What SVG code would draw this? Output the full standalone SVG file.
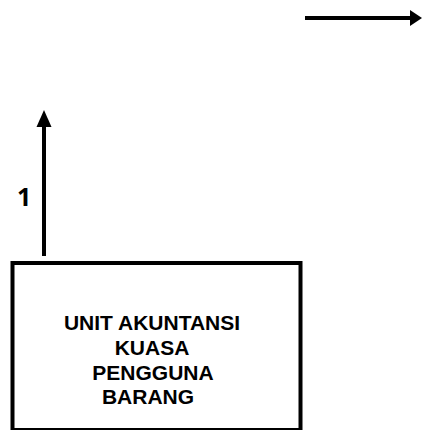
<svg xmlns="http://www.w3.org/2000/svg" width="422" height="430" viewBox="0 0 422 430">
  <style>
    .line { stroke: #000; stroke-width: 4; fill: none; }
    .head { fill: #000; }
    .box { fill: #fff; stroke: #000; stroke-width: 4; }
    .lbl { font-family: "Liberation Sans", Arial, sans-serif; font-weight: bold; font-size: 21px; fill: #000; text-anchor: middle; }
    .num { font-family: "Open Sans", "Noto Sans", sans-serif; font-weight: bold; font-size: 25px; fill: #000; }
  </style>
  <rect width="422" height="430" fill="#fff"/>
  <g id="connectors">
    <line class="line" x1="305" y1="18" x2="411" y2="18"/>
    <polygon class="head" points="410,10 422,18 410,26"/>
    <line class="line" x1="44" y1="256" x2="44" y2="125"/>
    <polygon class="head" points="44,110 36.5,127 51.5,127"/>
    <text class="num" x="17" y="206">1</text>
  </g>
  <g id="unit-akuntansi">
    <rect class="box" x="12.5" y="263" width="288" height="167"/>
    <text class="lbl" x="152" y="330">UNIT AKUNTANSI</text>
    <text class="lbl" x="152" y="355">KUASA</text>
    <text class="lbl" x="153" y="380">PENGGUNA</text>
    <text class="lbl" x="148" y="404">BARANG</text>
  </g>
</svg>
